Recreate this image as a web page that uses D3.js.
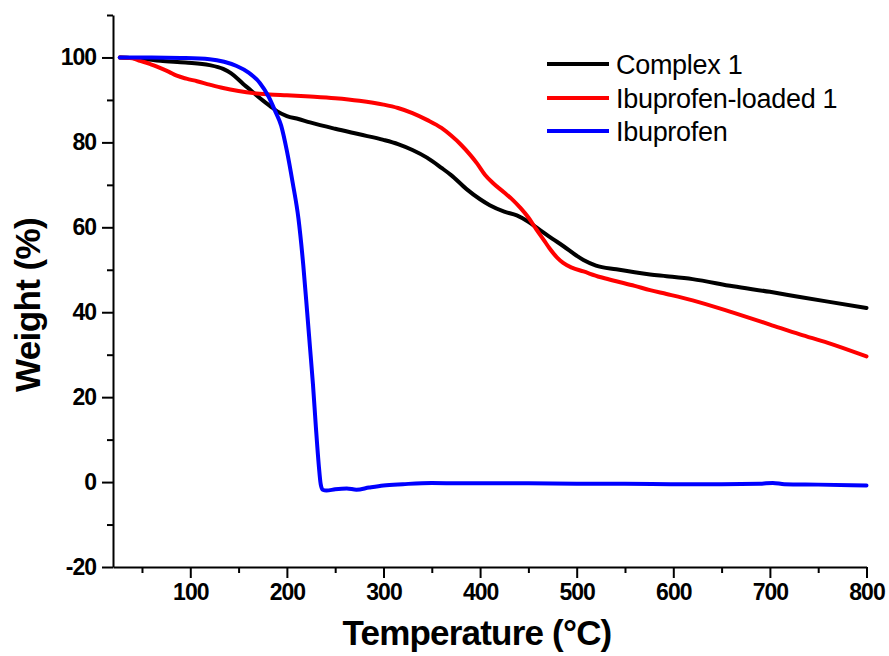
<!DOCTYPE html>
<html><head><meta charset="utf-8">
<script src="https://cdn.jsdelivr.net/npm/d3@7"></script>
<style>
html,body{margin:0;padding:0;background:#fff;}
svg{display:block;font-family:"Liberation Sans",Arial,sans-serif;}
</style></head>
<body>
<svg id="chart" width="889" height="656"></svg>
<script>
// ---- data (temperature °C, weight %) ----
const seriesNames = ["Complex 1", "Ibuprofen-loaded 1", "Ibuprofen"];
const seriesColors = ["#000000", "#ff0000", "#0000ff"];

const complex1 = [[27,100],[50,99.7],[69,99.2],[95,98.8],[120,98.2],[134,97.3],[142,96.3],[149,95],[156,93.5],[162,92.4],[170,90.8],[176,89.7],[183,88.5],[190,87.3],[200,86.2],[212,85.5],[224,84.7],[250,83.2],[275,81.9],[300,80.6],[315,79.6],[330,78.2],[345,76.4],[360,74.0],[370,72.3],[386,69],[400,66.6],[410,65.2],[425,63.7],[438,62.8],[450,61.3],[460,59.7],[475,57.3],[486,55.6],[500,53.3],[507,52.3],[520,51],[541,50.1],[560,49.4],[576,48.9],[593,48.5],[620,47.8],[662,46.1],[700,44.8],[731,43.6],[760,42.5],[800,41.0]];

const ibuLoaded = [[27,100],[40,99.8],[48,99.2],[58,98.5],[68,97.6],[78,96.6],[86,95.7],[96,95.0],[107,94.4],[120,93.6],[134,92.8],[150,92.1],[165,91.6],[182,91.3],[200,91.1],[224,90.8],[250,90.4],[275,89.8],[300,88.9],[315,88.1],[330,86.9],[345,85.3],[360,83.4],[370,81.6],[380,79.5],[390,77],[397,75],[405,72.4],[413,70.5],[425,68.2],[434,66.4],[442,64.5],[450,62.3],[458,59.6],[466,57],[472,55],[480,52.8],[486,51.6],[495,50.5],[507,49.6],[524,48.3],[541,47.3],[560,46.2],[576,45.2],[593,44.3],[620,42.8],[662,39.9],[700,37.1],[731,34.8],[760,32.8],[800,29.6]];

const ibuprofen = [[27,100],[60,100],[90,99.9],[120,99.6],[135,99.0],[148,98.0],[160,96.5],[172,94],[181,90.8],[188,87.3],[194,84],[200,78],[206,70.5],[212,62],[217,51],[221,40],[224,31.5],[227,23],[230,13],[233,4],[235,-0.5],[237,-1.8],[241,-2.0],[250,-1.7],[262,-1.5],[272,-1.8],[285,-1.3],[300,-0.8],[320,-0.5],[350,-0.2],[380,-0.3],[450,-0.3],[500,-0.4],[550,-0.4],[600,-0.5],[650,-0.5],[690,-0.4],[703,-0.2],[715,-0.5],[750,-0.6],[800,-0.8]];

const xMajorTicks = [100,200,300,400,500,600,700,800];
const xMinorTicks = [50,150,250,350,450,550,650,750];
const yMajorTicks = [-20,0,20,40,60,80,100];
const yMinorTicks = [-10,10,30,50,70,90,110];
const xTitle = "Temperature (°C)";
const yTitle = "Weight (%)";

// ---- layout ----
const svg = d3.select("#chart");
const mLeft = 113, mRight = 866.5, mTop = 15, mBottom = 567;
const x = d3.scaleLinear().domain([20, 800]).range([mLeft, mRight]);
const y = d3.scaleLinear().domain([-20, 110]).range([mBottom, mTop]);

const fmt = d => String(d);

// curves
const line = d3.line().x(d => x(d[0])).y(d => y(d[1])).curve(d3.curveMonotoneX);
[complex1, ibuLoaded, ibuprofen].forEach((s, i) => {
  svg.append("path").datum(s)
    .attr("d", line)
    .attr("fill", "none")
    .attr("stroke", seriesColors[i])
    .attr("stroke-width", 4)
    .attr("stroke-linejoin", "round")
    .attr("stroke-linecap", "round");
});

// axes
function styleAxis(g) {
  g.selectAll("path.domain").attr("stroke", "#000").attr("stroke-width", 2);
  g.selectAll(".tick line").attr("stroke", "#000").attr("stroke-width", 2);
}
const xAxis = svg.append("g").attr("transform", `translate(0,${mBottom})`)
  .call(d3.axisBottom(x).tickValues(xMajorTicks).tickFormat(fmt).tickSize(11).tickSizeOuter(0).tickPadding(6));
styleAxis(xAxis);
xAxis.selectAll("text").attr("font-size", 23).attr("font-weight", "bold")
  .attr("font-family", "Liberation Sans, Arial, sans-serif").attr("fill", "#000").attr("letter-spacing", -1);
svg.append("g").attr("transform", `translate(0,${mBottom})`)
  .call(d3.axisBottom(x).tickValues(xMinorTicks).tickFormat("").tickSize(6).tickSizeOuter(0))
  .call(g => { g.select("path.domain").remove(); styleAxis(g); });

const yAxis = svg.append("g").attr("transform", `translate(${mLeft},0)`)
  .call(d3.axisLeft(y).tickValues(yMajorTicks).tickFormat(fmt).tickSize(11).tickSizeOuter(0).tickPadding(6));
styleAxis(yAxis);
yAxis.selectAll("text").attr("font-size", 23).attr("font-weight", "bold")
  .attr("font-family", "Liberation Sans, Arial, sans-serif").attr("fill", "#000").attr("letter-spacing", -1);
svg.append("g").attr("transform", `translate(${mLeft},0)`)
  .call(d3.axisLeft(y).tickValues(yMinorTicks).tickFormat("").tickSize(6).tickSizeOuter(0))
  .call(g => { g.select("path.domain").remove(); styleAxis(g); });

// titles
svg.append("text").attr("x", 477).attr("y", 645).attr("text-anchor", "middle")
  .attr("font-size", 35).attr("font-weight", "bold").attr("letter-spacing", -0.8)
  .text(xTitle);
svg.append("text").attr("transform", `translate(40,305) rotate(-90)`).attr("text-anchor", "middle")
  .attr("font-size", 35).attr("font-weight", "bold").attr("letter-spacing", -0.6)
  .text(yTitle);

// legend
const legY = [64, 98, 131];
seriesNames.forEach((name, i) => {
  svg.append("line").attr("x1", 547).attr("x2", 609).attr("y1", legY[i]).attr("y2", legY[i])
    .attr("stroke", seriesColors[i]).attr("stroke-width", 4);
  svg.append("text").attr("x", 616).attr("y", legY[i] + 10)
    .attr("font-size", 27).attr("letter-spacing", -0.3).text(name);
});
</script>
</body></html>
